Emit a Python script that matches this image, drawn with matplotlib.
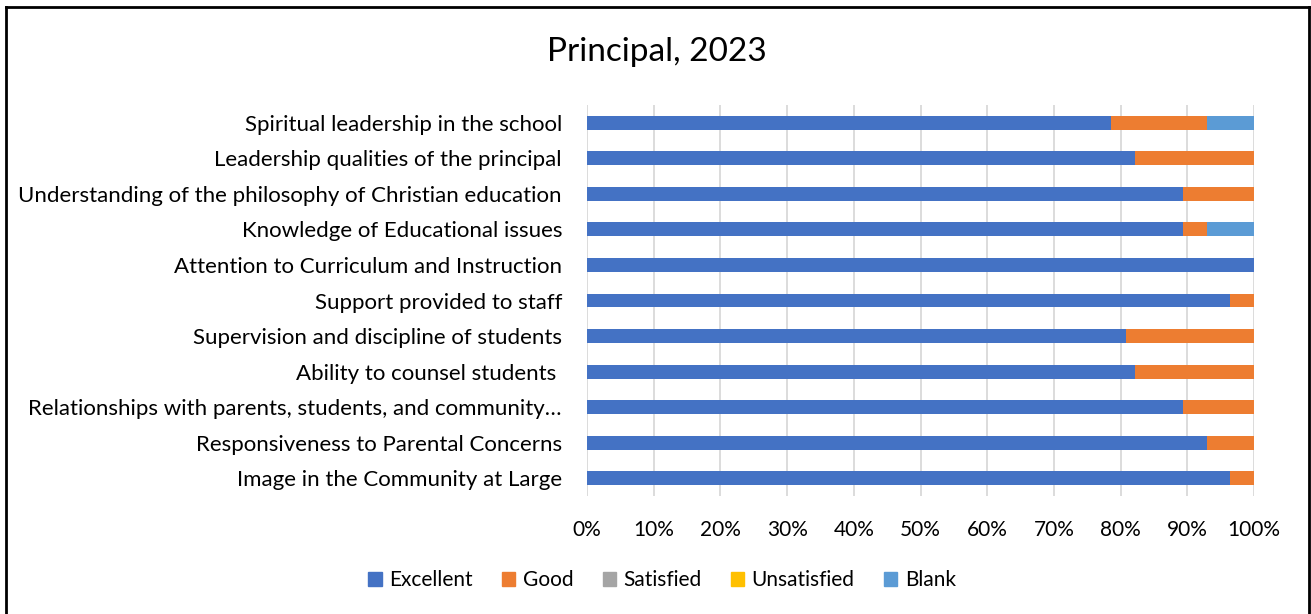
import matplotlib
matplotlib.use("Agg")
import matplotlib.pyplot as plt
from matplotlib.lines import Line2D
from matplotlib.ticker import PercentFormatter

plt.rcParams['font.family'] = ['Lato', 'DejaVu Sans']

categories = [
    "Spiritual leadership in the school",
    "Leadership qualities of the principal",
    "Understanding of the philosophy of Christian education",
    "Knowledge of Educational issues",
    "Attention to Curriculum and Instruction",
    "Support provided to staff",
    "Supervision and discipline of students",
    "Ability to counsel students ",
    "Relationships with parents, students, and community\u2026",
    "Responsiveness to Parental Concerns",
    "Image in the Community at Large",
]
excellent = [0.786, 0.821, 0.893, 0.893, 1.000, 0.964, 0.808, 0.821, 0.893, 0.929, 0.964]
good      = [0.143, 0.179, 0.107, 0.036, 0.000, 0.036, 0.192, 0.179, 0.107, 0.071, 0.036]
satisfied = [0.0] * 11
unsatisfied = [0.0] * 11
blank     = [0.071, 0.000, 0.000, 0.071, 0.000, 0.000, 0.000, 0.000, 0.000, 0.000, 0.000]

series_names = ["Excellent", "Good", "Satisfied", "Unsatisfied", "Blank"]
series_vals = [excellent, good, satisfied, unsatisfied, blank]
colors = ["#4472C4", "#ED7D31", "#A5A5A5", "#FFC000", "#5B9BD5"]

W, H = 1311, 614
fig = plt.figure(figsize=(W / 100, H / 100), dpi=100)
ax = fig.add_axes([587 / W, 1 - 496 / H, (1254 - 587) / W, (496 - 105) / H])

n = len(categories)
ypos = list(range(n))[::-1]
left = [0.0] * n
for name, vals, col in zip(series_names, series_vals, colors):
    ax.barh(ypos, vals, left=left, height=0.39, color=col, label=name, zorder=3)
    left = [a + b for a, b in zip(left, vals)]

ax.set_xlim(0, 1)
ax.set_ylim(-0.5, n - 0.5)
ax.set_xticks([i / 10 for i in range(11)])
ax.xaxis.set_major_formatter(PercentFormatter(1.0, decimals=0))
ax.set_yticks(ypos)
ax.set_yticklabels(categories)
ax.grid(axis='x', color='#d9d9d9', linewidth=1.3, zorder=0)
for s in ax.spines.values():
    s.set_visible(False)
ax.tick_params(axis='both', length=0, colors='black')
ax.tick_params(axis='y', labelsize=16, pad=18)
ax.tick_params(axis='x', labelsize=15, pad=17)

fig.text(657 / W, 1 - 52 / H, "Principal, 2023", ha='center', va='center', fontsize=24)

handles = [plt.Rectangle((0, 0), 1, 1, color=c) for c in colors]
fig.legend(handles, series_names, loc='center', bbox_to_anchor=(662 / W, 1 - 580 / H),
           ncol=5, frameon=False, fontsize=15, handlelength=0.65, handleheight=0.65,
           handletextpad=0.35, columnspacing=1.4)

# chart border (left, top, right)
fig.add_artist(Line2D([6 / W, 6 / W], [0, 1 - 7 / H], transform=fig.transFigure, color='black', lw=2))
fig.add_artist(Line2D([6 / W, 1309 / W], [1 - 7 / H, 1 - 7 / H], transform=fig.transFigure, color='black', lw=2))
fig.add_artist(Line2D([1309 / W, 1309 / W], [0, 1 - 7 / H], transform=fig.transFigure, color='black', lw=2))

fig.savefig("out.png", dpi=100)
